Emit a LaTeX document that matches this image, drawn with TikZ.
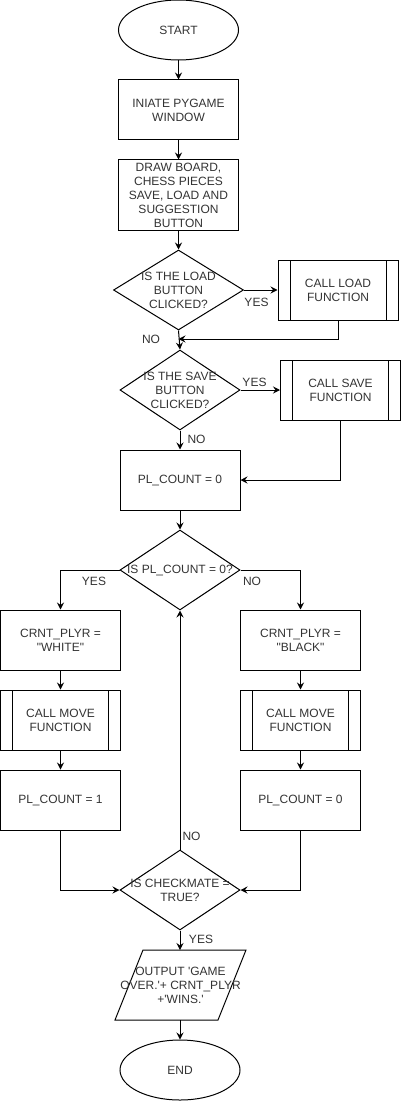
\documentclass[tikz,border=0pt]{standalone}
\usepackage{fontspec}
\newfontfamily\dgfont{Liberation Sans}
\usetikzlibrary{shapes.geometric,arrows.meta}
\begin{document}
\begin{tikzpicture}[x=1pt,y=-1pt,
  every node/.style={font=\dgfont\fontsize{12}{14}\selectfont, text=black!80},
  base/.style={draw=black, line width=1pt, inner sep=0pt, align=center},
  box/.style={base, rectangle, minimum width=120pt, minimum height=60pt},
  tall/.style={box, minimum height=70pt},
  sub/.style={box, path picture={
     \draw[line width=1pt] ([xshift=12pt]path picture bounding box.north west) -- ([xshift=12pt]path picture bounding box.south west);
     \draw[line width=1pt] ([xshift=-12pt]path picture bounding box.north east) -- ([xshift=-12pt]path picture bounding box.south east);}},
  term/.style={base, ellipse, minimum width=120pt, minimum height=60pt},
  dia/.style={base, diamond, minimum width=120pt, minimum height=80pt},
  lbl/.style={inner sep=0pt, align=center},
  arr/.style={draw=black, line width=1pt, -{Stealth[length=7pt,width=7pt,inset=2.5pt]}},
]
\useasboundingbox (0,0) rectangle (402,1102);

% top column
\node[term] (start) at (178.5,30) {START};
\node[box] (init) at (178.5,110) {INIATE PYGAME\\WINDOW};
\node[tall] (drawb) at (178.5,195) {DRAW BOARD,\\CHESS PIECES\\SAVE, LOAD AND\\SUGGESTION\\BUTTON};
\node[dia, minimum width=130pt] (d1) at (178.5,290) {};
\node[lbl] (d1t) at (d1) {IS THE LOAD\\BUTTON\\CLICKED?};
\node[sub] (load) at (338,290) {CALL LOAD\\FUNCTION};
\coordinate (m1) at (178.5,339);
\node[dia] (d2) at (180,390) {};
\node[lbl] (d2t) at (d2) {IS THE SAVE\\BUTTON\\CLICKED?};
\node[sub] (save) at (340.5,390) {CALL SAVE\\FUNCTION};
\node[box] (pl0) at (180,480) {PL\_COUNT = 0};
\node[dia] (d3) at (180,570) {};
\node[lbl] (d3t) at (d3) {IS PL\_COUNT = 0?};

% branches
\node[box] (white) at (60.5,640) {CRNT\_PLYR =\\"WHITE"};
\node[sub] (move1) at (60.5,720) {CALL MOVE\\FUNCTION};
\node[box] (pl1) at (60.5,800) {PL\_COUNT = 1};
\node[box] (black) at (300.5,640) {CRNT\_PLYR =\\"BLACK"};
\node[sub] (move2) at (300.5,720) {CALL MOVE\\FUNCTION};
\node[box] (plc0) at (300.5,800) {PL\_COUNT = 0};

\node[dia] (d4) at (180,890) {};
\node[lbl] (d4t) at (d4) {IS CHECKMATE =\\TRUE?};

% output parallelogram
\draw[line width=1pt] (115,1020) -- (143,950) -- (246,950) -- (218,1020) -- cycle;
\coordinate (outtop) at (180,950);
\coordinate (outbot) at (180,1020);
\node[lbl] (outp) at (180.5,985) {OUTPUT 'GAME\\OVER.'+ CRNT\_PLYR\\+'WINS.'};
\node[term] (stop) at (180,1070) {END};

% labels
\node[lbl] (y1) at (256.5,302) {YES};
\node[lbl] (n1) at (151,339) {NO};
\node[lbl] (y2) at (254.5,382) {YES};
\node[lbl] (n2) at (196.5,439) {NO};
\node[lbl] (y3) at (94,581) {YES};
\node[lbl] (n3) at (252,581) {NO};
\node[lbl] (n4) at (191.5,836) {NO};
\node[lbl] (y4) at (201,939) {YES};

% connectors
\draw[arr] (start) -- (init);
\draw[arr] (init) -- (drawb);
\draw[arr] (drawb) -- (d1);
\draw[arr] (d1.east) -- (load.west);
\draw[arr] (load.south) |- (m1);
\draw[arr] (d1.south) -- (d2.north);
\draw[arr] (d2.east) -- (save.west);
\draw[arr] (d2) -- (pl0);
\draw[arr] (save.south) |- (pl0.east);
\draw[arr] (pl0) -- (d3);
\draw[arr] (d3.west) -| (white.north);
\draw[arr] (d3.east) -| (black.north);
\draw[arr] (white) -- (move1);
\draw[arr] (move1) -- (pl1);
\draw[arr] (black) -- (move2);
\draw[arr] (move2) -- (plc0);
\draw[arr] (pl1.south) |- (d4.west);
\draw[arr] (plc0.south) |- (d4.east);
\draw[arr] (d4.north) -- (d3.south);
\draw[arr] (d4.south) -- (outtop);
\draw[arr] (outbot) -- (stop.north);
\end{tikzpicture}
\end{document}
